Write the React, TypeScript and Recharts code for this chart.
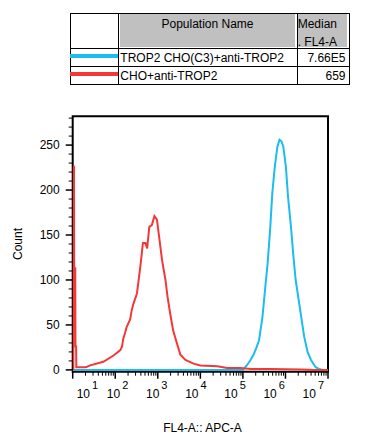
import React from "react";
import { LineChart, Line, XAxis, YAxis, ReferenceArea } from "recharts";

// legend table
const populations = ["TROP2 CHO(C3)+anti-TROP2", "CHO+anti-TROP2"];
const medians = ["7.66E5", "659"];
const colors = ["#1bbcf0", "#f43838"];

// histogram values, x is log10 of FL4-A
const blueLog = [1.0, 5.0, 5.02, 5.1, 5.18, 5.26, 5.32, 5.38, 5.46, 5.52, 5.58, 5.64, 5.69, 5.75, 5.81, 5.86, 5.91, 5.95, 6.01, 6.06, 6.13, 6.18, 6.24, 6.31, 6.38, 6.44, 6.52, 6.6, 6.71, 6.79, 6.88, 7.0];
const blueCount = [0, 0, 1, 5.5, 11, 18, 25, 33, 59, 89, 118, 156, 196, 226, 248, 256, 254, 248, 226, 193, 159, 130, 100, 78, 56, 37, 20, 11, 3, 1, 0, 0];

const redLog = [1.015, 1.02, 1.03, 1.035, 1.06, 1.065, 1.08, 1.085, 1.31, 1.41, 1.72, 1.96, 2.12, 2.16, 2.19, 2.23, 2.27, 2.35, 2.39, 2.43, 2.51, 2.59, 2.65, 2.71, 2.75, 2.8, 2.86, 2.92, 2.98, 3.02, 3.1, 3.18, 3.23, 3.29, 3.36, 3.44, 3.53, 3.65, 3.84, 4.0, 4.4, 4.63, 4.94, 5.18, 5.65, 6.36, 6.71, 7.0];
const redCount = [0, 226, 226, 113, 113, 26, 26, 3, 3, 5, 9, 16, 22, 26, 35, 41, 48, 56, 67, 74, 85, 115, 141, 141, 135, 159, 161, 171, 167, 152, 122, 100, 81, 63, 44, 31, 17, 11, 7, 5, 4, 2, 2, 1, 1, 0.5, 0, 0];

const decades = [1, 2, 3, 4, 5, 6, 7];

const blueData = blueLog.map((l, i) => ({ l, c: blueCount[i] }));
const redData = redLog.map((l, i) => ({ l, c: redCount[i] }));

const xTicks: number[] = [];
decades.forEach((d) => {
  xTicks.push(d);
  if (d < 7) for (let k = 2; k <= 9; k++) xTicks.push(d + Math.log10(k));
});
const yTicks: number[] = [];
for (let v = 0; v <= 280; v += 10) yTicks.push(v);

const font = "'Liberation Sans', Arial, sans-serif";

const XTick = (props: any) => {
  const { x, y, payload } = props;
  const v = payload.value;
  const n = Math.round(v);
  if (Math.abs(v - n) > 1e-6) {
    return <line x1={x} x2={x} y1={y} y2={y + 4} stroke="#000" strokeWidth={1} />;
  }
  const i = n - 1;
  const shift = i === 0 ? 4 : -5 - 3.4 * i;
  return (
    <g>
      <line x1={x} x2={x} y1={y} y2={y + 7} stroke="#000" strokeWidth={1.5} />
      <text x={x + shift} y={y + 26} fontSize={12} fill="#000" fontFamily={font}>
        10
        <tspan dx={2} dy={-9} fontSize={11}>
          {n}
        </tspan>
      </text>
    </g>
  );
};

const YTick = (props: any) => {
  const { x, y, payload } = props;
  const v = payload.value;
  if (v % 50 !== 0) {
    return <line x1={x - 4} x2={x} y1={y} y2={y} stroke="#000" strokeWidth={1} />;
  }
  return (
    <g>
      <line x1={x - 7} x2={x} y1={y} y2={y} stroke="#000" strokeWidth={1.5} />
      <text x={x - 13} y={y} dy="0.35em" textAnchor="end" fontSize={12} fill="#000" fontFamily={font}>
        {v}
      </text>
    </g>
  );
};

const cellText: React.CSSProperties = {
  position: "absolute",
  fontFamily: font,
  fontSize: 12,
  color: "#000",
  whiteSpace: "nowrap",
  lineHeight: "14px",
};

function LegendTable() {
  const L = 69.5, R = 348.5, T = 12.5, B = 83.5;
  const c1 = 118.3, c2 = 296.7, h1 = 48.3, h2 = 65.9;
  const line = (s: React.CSSProperties) => <div style={{ position: "absolute", background: "#000", ...s }} />;
  return (
    <>
      <div style={{ position: "absolute", left: c1 + 1.5, top: T + 1.5, width: c2 - c1 - 3, height: h1 - T - 3, background: "#c0c0c0" }} />
      <div style={{ position: "absolute", left: c2 + 1.5, top: T + 1.5, width: R - c2 - 3, height: h1 - T - 3, background: "#c0c0c0" }} />
      {line({ left: L, top: T, width: R - L, height: 1 })}
      {line({ left: L, top: B, width: R - L + 1, height: 1 })}
      {line({ left: L, top: T, width: 1, height: B - T })}
      {line({ left: R, top: T, width: 1, height: B - T })}
      {line({ left: c1, top: T, width: 1, height: B - T })}
      {line({ left: c2, top: T, width: 1, height: B - T })}
      {line({ left: L, top: h1, width: R - L, height: 1 })}
      {line({ left: L, top: h2, width: R - L, height: 1 })}
      <div style={{ ...cellText, left: c1, width: c2 - c1, top: 17, textAlign: "center" }}>Population Name</div>
      <div style={{ ...cellText, left: c2 + 1, top: 17 }}>Median</div>
      <div style={{ ...cellText, left: c2 + 1, top: 35 }}>. FL4-A</div>
      {populations.map((p, i) => {
        const top = i === 0 ? h1 : h2;
        return (
          <React.Fragment key={p}>
            <div style={{ position: "absolute", left: L, top: top + 6, width: c1 - L, height: 4, background: colors[i] }} />
            <div style={{ ...cellText, left: c1 + 2, top: top + 3 }}>{p}</div>
            <div style={{ ...cellText, left: c2, width: R - c2 - 3, top: top + 3, textAlign: "right" }}>{medians[i]}</div>
          </React.Fragment>
        );
      })}
    </>
  );
}

export default function App() {
  return (
    <div style={{ position: "absolute", left: 0, top: 0, width: 370, height: 445, background: "#fff" }}>
      <LegendTable />
      <div style={{ position: "absolute", left: 0, top: 0 }}>
        <LineChart width={370} height={445} margin={{ top: 116.3, right: 42, bottom: 33.3, left: 12.7 }}>
          <XAxis
            dataKey="l"
            type="number"
            domain={[1, 7]}
            ticks={xTicks}
            interval={0}
            allowDataOverflow
            axisLine={false}
            tickLine={false}
            tickSize={0}
            tickMargin={0}
            height={40}
            tick={<XTick />}
          />
          <YAxis
            type="number"
            domain={[-2, 282]}
            ticks={yTicks}
            interval={0}
            allowDataOverflow
            axisLine={false}
            tickLine={false}
            tickSize={0}
            tickMargin={0}
            width={60}
            tick={<YTick />}
          />
          <Line data={blueData} dataKey="c" type="linear" stroke={colors[0]} strokeWidth={2} dot={false} isAnimationActive={false} />
          <Line data={redData} dataKey="c" type="linear" stroke={colors[1]} strokeWidth={2} dot={false} isAnimationActive={false} />
          <ReferenceArea x1={1} x2={7} y1={-2} y2={282} fill="none" stroke="#000" strokeWidth={2} />
        </LineChart>
      </div>
      <div style={{ ...cellText, left: 18, top: 244, transform: "translate(-50%, -50%) rotate(-90deg)" }}>Count</div>
      <div style={{ ...cellText, left: 0, width: 405, top: 421, textAlign: "center" }}>FL4-A:: APC-A</div>
    </div>
  );
}
